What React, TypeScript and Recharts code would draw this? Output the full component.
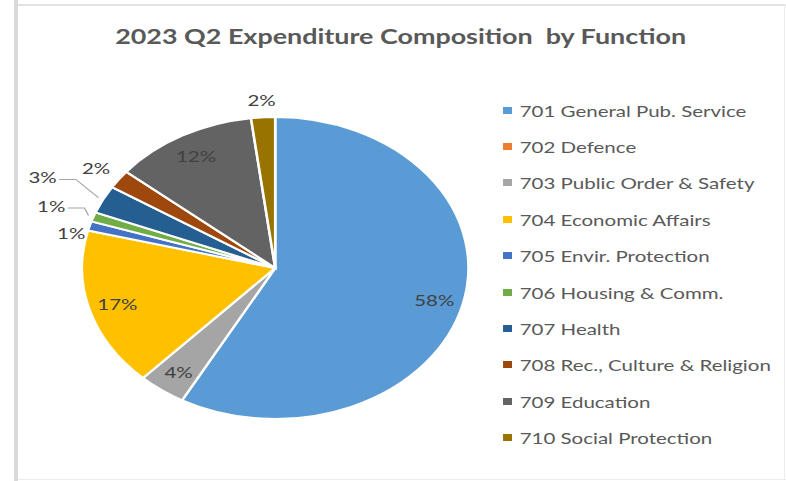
import { Cell, Legend, Pie, PieChart } from "recharts";

// The reference is a stretched Excel pie (ellipse ~1.28 wide), so the whole
// chart is drawn at native size and scaled horizontally.
const STRETCH = 1.28;
const W = 614;
const H = 481;

const categories = [
  "701 General Pub. Service",
  "702 Defence",
  "703 Public Order & Safety",
  "704 Economic Affairs",
  "705 Envir. Protection",
  "706 Housing & Comm.",
  "707 Health",
  "708 Rec., Culture & Religion",
  "709 Education",
  "710 Social Protection",
];
const shares = [58, 0, 4, 17, 1, 1, 3, 2, 12, 2];
const colors = [
  "#5B9BD5",
  "#ED7D31",
  "#A5A5A5",
  "#FFC000",
  "#4472C4",
  "#70AD47",
  "#255E91",
  "#9E480E",
  "#636363",
  "#997300",
];
// extra radial distance for the small outside labels (crowded ones get pushed out)
const labelPush = [0, 0, 0, 0, 15, 35, 53, 22, 0, 18];
// small vertical nudge so crowded labels don't stack
const labelNudgeY = [0, 0, 0, 0, 11, 1, 2, 2, 0, 1];

const data = categories.map((name, i) => ({ name, value: shares[i] }));

const FONT = "Lato, 'Open Sans', sans-serif";
const RADIAN = Math.PI / 180;
const R = 151;

function renderLabel(props: any) {
  const { cx, cy, midAngle, index, value } = props;
  if (!value) return null;
  const inside = value >= 4;
  const rad = inside ? R * 0.85 : R + labelPush[index];
  const cos = Math.cos(-midAngle * RADIAN);
  const sin = Math.sin(-midAngle * RADIAN);
  const x = cx + rad * cos;
  const y = cy + rad * sin + labelNudgeY[index];
  const text = `${value}%`;
  let line = null;
  if (!inside && labelPush[index] > 30) {
    const half = 11;
    const ex = cx + (R + 4) * cos;
    const ey = cy + (R + 4) * sin;
    line = (
      <polyline
        points={`${x + half + 2},${y + 2} ${x + half + 15},${y + 2} ${ex},${ey}`}
        fill="none"
        stroke="#a6a6a6"
        strokeWidth={1}
      />
    );
  }
  return (
    <g key={`lbl-${index}`}>
      {line}
      <text
        x={x}
        y={y}
        textAnchor="middle"
        dominantBaseline="central"
        fill="#404040"
        fontSize={16}
        fontFamily={FONT}
      >
        {text}
      </text>
    </g>
  );
}

function renderLegend() {
  return (
    <div style={{ fontFamily: FONT, fontSize: 16, color: "#595959" }}>
      {categories.map((name, i) => (
        <div key={name} style={{ display: "flex", alignItems: "center", height: 36.4 }}>
          <span
            style={{ width: 7, height: 7, background: colors[i], marginRight: 6, display: "inline-block" }}
          />
          <span style={{ whiteSpace: "nowrap" }}>{name}</span>
        </div>
      ))}
    </div>
  );
}

export default function App() {
  return (
    <div
      style={{
        position: "fixed",
        left: 0,
        top: 0,
        width: 786,
        height: 481,
        background: "#fff",
        overflow: "hidden",
      }}
    >
      {/* worksheet frame bits around the chart */}
      <div style={{ position: "absolute", left: 14, top: 0, width: 4, height: 481, background: "#d9d9d9" }} />
      <div style={{ position: "absolute", left: 18, top: 4, width: 768, height: 2, background: "#e3e3e3" }} />
      <div style={{ position: "absolute", left: 18, top: 479, width: 768, height: 1, background: "#ececec" }} />
      <div style={{ position: "absolute", left: 784, top: 4, width: 1, height: 476, background: "#ececec" }} />

      <div
        style={{
          position: "absolute",
          left: 0,
          top: 0,
          width: W,
          height: H,
          transform: `scaleX(${STRETCH})`,
          transformOrigin: "0 0",
        }}
      >
        <div
          style={{
            position: "absolute",
            left: 0,
            width: 626,
            top: 23,
            textAlign: "center",
            fontFamily: FONT,
            fontWeight: 700,
            fontSize: 21,
            color: "#595959",
            whiteSpace: "pre",
            zIndex: 2,
          }}
        >
          {"2023 Q2 Expenditure Composition  by Function"}
        </div>
        <PieChart width={W} height={H} margin={{ top: 0, right: 0, bottom: 0, left: 0 }}>
          <Pie
            data={data}
            dataKey="value"
            nameKey="name"
            cx={215}
            cy={268}
            outerRadius={R}
            startAngle={90}
            endAngle={-270}
            stroke="#ffffff"
            strokeWidth={2}
            label={renderLabel}
            labelLine={false}
            isAnimationActive={false}
          >
            {data.map((d, i) => (
              <Cell key={d.name} fill={colors[i]} />
            ))}
          </Pie>
          <Legend
            layout="vertical"
            verticalAlign="top"
            align="right"
            content={renderLegend}
            wrapperStyle={{ left: 393, right: "auto", top: 92, width: 221 }}
          />
        </PieChart>
      </div>
    </div>
  );
}
